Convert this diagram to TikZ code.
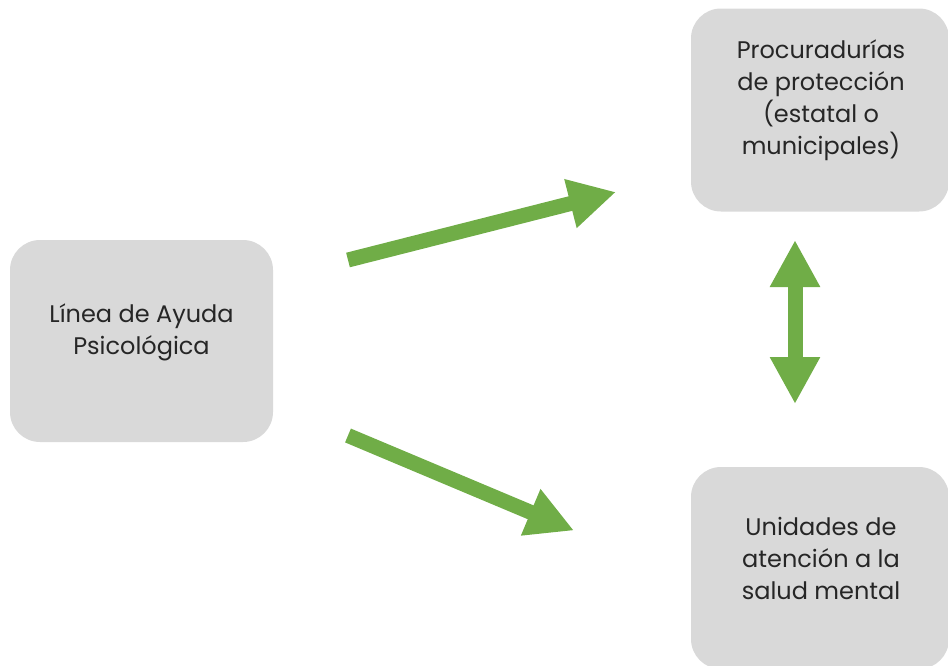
\documentclass[tikz,border=0pt]{standalone}
\usepackage{fontspec}
\setmainfont{Poppins}
\usepackage{tikz}
\usetikzlibrary{arrows.meta}
\definecolor{boxgray}{HTML}{D9D9D9}
\definecolor{arrowgreen}{HTML}{70AD47}
\definecolor{textgray}{HTML}{262626}
\tikzstyle{box} = [rectangle, rounded corners=30pt, draw=none, fill=boxgray]
\tikzstyle{boxtext} = [align=center, text=textgray, font=\fontsize{24}{32}\selectfont]
\tikzstyle{arrow} = [line width=15pt, draw=arrowgreen, -{Triangle[width=47pt,length=47pt]}]
\tikzstyle{biarrow} = [line width=15pt, draw=arrowgreen, {Triangle[width=47pt,length=47pt]}-{Triangle[width=47pt,length=47pt]}]

\begin{document}
\begin{tikzpicture}[x=1pt,y=-1pt]
\useasboundingbox (0,0) rectangle (948,665);
\clip (0,0) rectangle (948,665);
\node (linea) [box, minimum width=263pt, minimum height=202pt] at (141.5,341) {};
\node (procu) [box, minimum width=258pt, minimum height=203pt] at (820,110) {};
\node (unidades) [box, minimum width=258pt, minimum height=202pt] at (820,568) {};
\node (lineaText) [boxtext] at (141.5,332) {Línea de Ayuda\\Psicológica};
\node (procuText) [boxtext] at (821,100) {Procuradurías\\de protección\\(estatal o\\municipales)};
\node (unidadesText) [boxtext] at (821,558) {Unidades de\\atención a la\\salud mental};

\coordinate (upStart) at (348,260);
\coordinate (upEnd) at (616,192);
\coordinate (downStart) at (348,435.5);
\coordinate (downEnd) at (574,530.5);
\coordinate (biTop) at (795,240);
\coordinate (biBottom) at (795,404);

\draw [arrow] (upStart) -- (upEnd);
\draw [arrow] (downStart) -- (downEnd);
\draw [biarrow] (biTop) -- (biBottom);
\end{tikzpicture}
\end{document}
